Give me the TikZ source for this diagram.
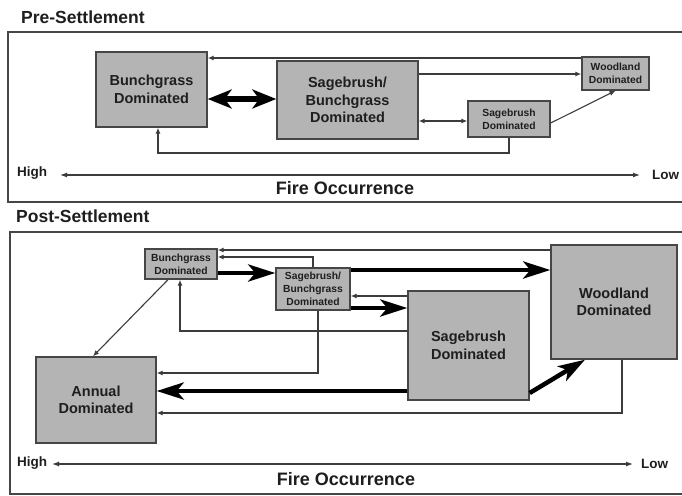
\documentclass[tikz,border=0pt]{standalone}
\usepackage{fontspec}
\setmainfont{Liberation Sans}
\usetikzlibrary{arrows.meta}
\definecolor{boxfill}{RGB}{180,180,180}
\definecolor{boxline}{RGB}{70,70,70}
\definecolor{ink}{RGB}{30,30,30}
\definecolor{lineclr}{RGB}{60,60,60}
\begin{document}
\begin{tikzpicture}[x=1pt,y=-1pt,
  box/.style={draw=boxline, line width=1.4pt, fill=boxfill, align=center, inner sep=0pt, text=ink},
  bigtxt/.style={font=\bfseries\fontsize{14.5}{17.5}\selectfont},
  smalltxt/.style={font=\bfseries\fontsize{10.3}{12.8}\selectfont},
  titletxt/.style={font=\bfseries\fontsize{17.5}{20}\selectfont, text=ink, inner sep=0pt},
  axtxt/.style={font=\bfseries\fontsize{13.5}{16}\selectfont, text=ink, inner sep=0pt},
  firetxt/.style={font=\bfseries\fontsize{18}{20}\selectfont, text=ink, inner sep=0pt},
  frameline/.style={draw=boxline, line width=1.5pt},
  thinarr/.style={draw=lineclr, line width=1.1pt, -{Latex[length=6pt,width=5pt]}},
  thindbl/.style={draw=lineclr, line width=1.1pt, {Latex[length=6pt,width=5pt]}-{Latex[length=6pt,width=5pt]}},
  thickarr/.style={draw=black, line width=4.5pt, -{Stealth[length=27pt,width=17pt,inset=7pt]}},
  thickdbl/.style={draw=black, line width=5.5pt, {Stealth[length=24pt,width=19pt,inset=7pt]}-{Stealth[length=24pt,width=19pt,inset=7pt]}},
  axarr/.style={draw=lineclr, line width=1.2pt, {Latex[length=7pt,width=5pt]}-{Latex[length=7pt,width=5pt]}}
]
\useasboundingbox (0,0) rectangle (682,495);
\fill[white] (0,0) rectangle (682,495);

% ---------------- Pre-Settlement ----------------
\node[titletxt, anchor=base west] (pretitle) at (21,24) {Pre-Settlement};
\draw[frameline] (682,32) -- (8,32) -- (8,202) -- (682,202);

\node[box,bigtxt,minimum width=111pt,minimum height=75pt] (pB) at (151.5,89.5) {Bunchgrass\\Dominated};
\node[box,bigtxt,minimum width=141pt,minimum height=78pt] (pSB) at (347.5,100) {Sagebrush/\\Bunchgrass\\Dominated};
\node[box,smalltxt,minimum width=67pt,minimum height=33pt] (pW) at (615.5,73.5) {Woodland\\Dominated};
\node[box,smalltxt,minimum width=82pt,minimum height=36pt] (pS) at (509,119) {Sagebrush\\Dominated};

\draw[thinarr] (pW.west |- 0,58) -- (pB.east |- 0,58);
\draw[thinarr] (pSB.east |- 0,74) -- (pW.west |- 0,74);
\draw[thickdbl] (pB.east |- 0,99) -- (pSB.west |- 0,99);
\draw[thindbl] (pSB.east |- 0,121) -- (pS.west |- 0,121);
\draw[thinarr] (pS.east |- 0,123) -- (pW.south);
\draw[thinarr] (pS.south) |- (158,153) -- (pB.south -| 158,0);

\node[axtxt, anchor=west] (phigh) at (17,173) {High};
\node[axtxt, anchor=west] (plow) at (652,175) {Low};
\coordinate (pa1) at (60,175);
\coordinate (pa2) at (640,175);
\draw[axarr] (pa1) -- (pa2);
\node[firetxt, anchor=base] (pfire) at (345,194) {Fire Occurrence};

% ---------------- Post-Settlement ----------------
\node[titletxt, anchor=base west] (posttitle) at (16,222) {Post-Settlement};
\draw[frameline] (682,232) -- (10,232) -- (10,494) -- (682,494);

\node[box,smalltxt,minimum width=72pt,minimum height=30pt] (qB) at (181,264) {Bunchgrass\\Dominated};
\node[box,smalltxt,minimum width=74pt,minimum height=42pt] (qSB) at (313,289) {Sagebrush/\\Bunchgrass\\Dominated};
\node[box,bigtxt,minimum width=121pt,minimum height=109pt] (qS) at (468.5,345.5) {Sagebrush\\Dominated};
\node[box,bigtxt,minimum width=126pt,minimum height=114pt] (qW) at (614,302) {Woodland\\Dominated};
\node[box,bigtxt,minimum width=120pt,minimum height=86pt] (qA) at (96,400) {Annual\\Dominated};

\draw[thinarr] (qW.west |- 0,250) -- (qB.east |- 0,250);
\draw[thinarr] (qSB.north) |- (qB.east |- 0,257);
\draw[thickarr] (qB.east |- 0,273) -- (qSB.west |- 0,273);
\draw[thickarr] (qSB.east |- 0,270) -- (qW.west |- 0,270);
\draw[thinarr] (qS.west |- 0,296) -- (qSB.east |- 0,296);
\draw[thickarr] (qSB.east |- 0,308) -- (qS.west |- 0,308);
\draw[thinarr] (qS.west |- 0,331) -| (qB.south -| 180,0);
\draw[thinarr] (qSB.south -| 318,0) |- (qA.east |- 0,373);
\draw[thickarr] (qS.west |- 0,391) -- (qA.east |- 0,391);
\draw[thinarr] (qW.south -| 622,0) |- (qA.east |- 0,413);
\draw[thinarr] (qB.south -| 168,0) -- (qA.north -| 93,0);
\draw[thickarr] (qS.east |- 0,393) -- (qW.south -| 585,0);

\node[axtxt, anchor=west] (qhigh) at (17,463) {High};
\node[axtxt, anchor=west] (qlow) at (641,464) {Low};
\coordinate (qa1) at (52,464);
\coordinate (qa2) at (633,464);
\draw[axarr] (qa1) -- (qa2);
\node[firetxt, anchor=base] (qfire) at (346,485) {Fire Occurrence};
\end{tikzpicture}
\end{document}
